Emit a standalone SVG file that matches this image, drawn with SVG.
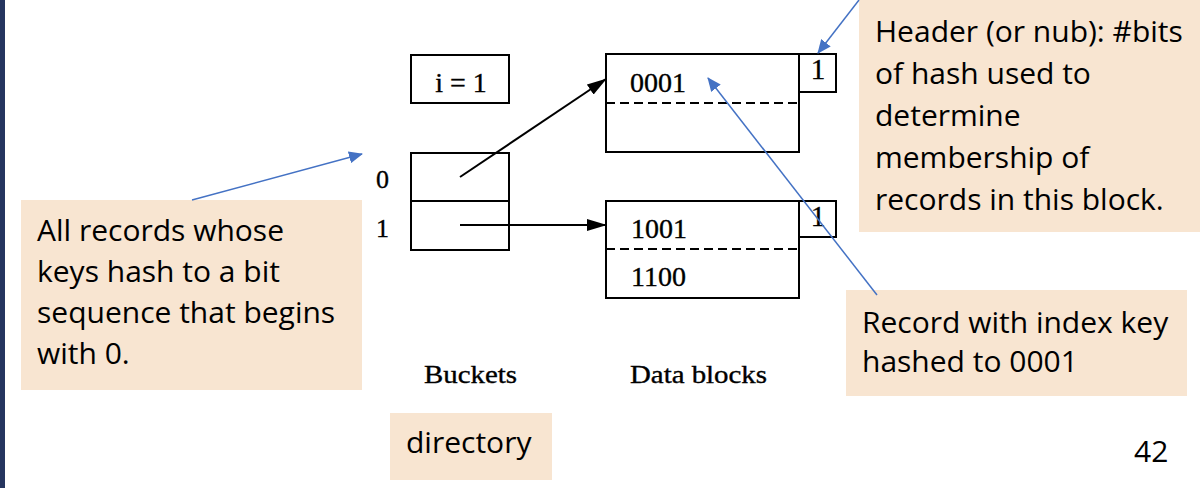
<svg xmlns="http://www.w3.org/2000/svg" width="1200" height="488" viewBox="0 0 1200 488">
<style>
.box{fill:#fff;stroke:#000;stroke-width:2}
.dash{stroke:#000;stroke-width:2;stroke-dasharray:9 5;fill:none}
.note{fill:#F8E5D1}
.nt{font-family:"Open Sans",Lato,sans-serif;font-size:30px;fill:#000}
.tm{font-family:"Liberation Serif","Times New Roman",serif;fill:#000;stroke:#000;stroke-width:0.35}
.blk{stroke:#000;stroke-width:2;fill:none}
.blue{stroke:#4472C4;stroke-width:1.5;fill:none}
</style>
<defs>
<marker id="ah" markerWidth="20" markerHeight="12" refX="19" refY="6" orient="auto" markerUnits="userSpaceOnUse">
<path d="M0,0 L20,6 L0,12 z" fill="#000"/>
</marker>
<marker id="bh" markerWidth="14" markerHeight="12" refX="13" refY="6" orient="auto" markerUnits="userSpaceOnUse">
<path d="M0,0 L14,6 L0,12 z" fill="#4472C4"/>
</marker>
</defs>
<rect x="0" y="0" width="5" height="488" fill="#25355F"/>

<g id="i-box">
<rect class="box" x="411" y="55" width="98" height="48"/>
<text class="tm" x="461" y="92" font-size="28" text-anchor="middle">i = 1</text>
</g>

<g id="buckets">
<rect class="box" x="411" y="153" width="98" height="97"/>
<line class="blk" x1="411" y1="201" x2="509" y2="201"/>
<text class="tm" x="376" y="188" font-size="26">0</text>
<text class="tm" x="376" y="237" font-size="26">1</text>
<text class="tm" x="424" y="383" font-size="25" textLength="93" lengthAdjust="spacingAndGlyphs">Buckets</text>
</g>

<g id="block1">
<rect class="box" x="606" y="54" width="193" height="98"/>
<line class="dash" x1="606" y1="103" x2="799" y2="103"/>
<rect class="box" x="799" y="54" width="37" height="38"/>
<text class="tm" x="630" y="92" font-size="28">0001</text>
<text class="tm" x="818" y="79" font-size="29" text-anchor="middle">1</text>
</g>

<g id="block2">
<rect class="box" x="606" y="201" width="193" height="97"/>
<line class="dash" x1="606" y1="249" x2="799" y2="249"/>
<rect class="box" x="799" y="201" width="37" height="36"/>
<text class="tm" x="631" y="238" font-size="28">1001</text>
<text class="tm" x="631" y="286" font-size="28">1100</text>
<text class="tm" x="818" y="226" font-size="29" text-anchor="middle">1</text>
<text class="tm" x="630" y="383" font-size="25" textLength="137" lengthAdjust="spacingAndGlyphs">Data blocks</text>
</g>

<g id="note-left">
<rect class="note" x="21" y="200" width="341" height="190"/>
<text class="nt" x="37" y="241">All records whose</text>
<text class="nt" x="37" y="282">keys hash to a bit</text>
<text class="nt" x="37" y="323">sequence that begins</text>
<text class="nt" x="37" y="364">with 0.</text>
</g>

<g id="note-header">
<rect class="note" x="859" y="0" width="341" height="232"/>
<text class="nt" x="875" y="42">Header (or nub): #bits</text>
<text class="nt" x="875" y="84">of hash used to</text>
<text class="nt" x="875" y="126">determine</text>
<text class="nt" x="875" y="168">membership of</text>
<text class="nt" x="875" y="210">records in this block.</text>
</g>

<g id="note-record">
<rect class="note" x="846" y="290" width="341" height="106"/>
<text class="nt" x="862" y="333">Record with index key</text>
<text class="nt" x="862" y="372">hashed to 0001</text>
</g>

<g id="note-directory">
<rect class="note" x="390" y="413" width="162" height="67"/>
<text class="nt" x="406" y="453">directory</text>
</g>

<text class="nt" x="1134" y="462">42</text>

<g id="connectors">
<line class="blk" x1="460" y1="177" x2="606" y2="79" marker-end="url(#ah)"/>
<line class="blk" x1="460" y1="225" x2="606" y2="225" marker-end="url(#ah)"/>
<line class="blue" x1="192" y1="200" x2="362" y2="154" marker-end="url(#bh)"/>
<line class="blue" x1="859" y1="0" x2="818" y2="53" marker-end="url(#bh)"/>
<line class="blue" x1="877" y1="295" x2="708" y2="78" marker-end="url(#bh)"/>
</g>
</svg>
